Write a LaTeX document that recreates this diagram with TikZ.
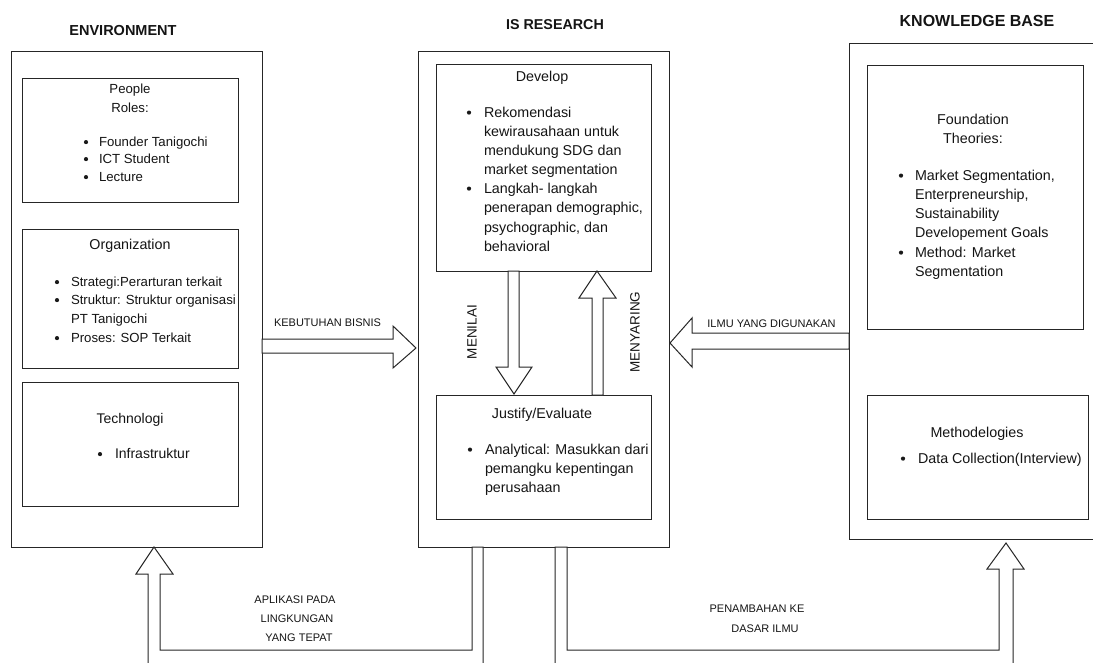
\documentclass[tikz,border=0pt]{standalone}
\usepackage{fontspec}
\setmainfont{Liberation Sans}
\usetikzlibrary{calc,fit}
\newcommand\fs[1]{\fontsize{#1}{#1}\selectfont}
\newcommand\bitem[5]{\node[dot] (#1b) at (#2,{#4-4.4}) {}; \node[lbl,anchor=base west] (#1) at (#3,#4) {#5};}
\newcommand\tline[4]{\node[lbl,anchor=base west] (#1) at (#2,#3) {#4};}
\newcommand\ctline[4]{\node[lbl,anchor=base] (#1) at (#2,#3) {#4};}
\begin{document}
\begin{tikzpicture}[x=1pt,y=-1pt,
  lbl/.style={inner sep=0pt,outer sep=0pt,text=black!92},
  dot/.style={circle,fill=black!90,inner sep=0pt,minimum size=4.2pt},
  frame/.style={draw=black!85,line width=1pt,inner sep=0pt,outer sep=0pt},
  hollow/.style={draw=black!85,line width=1pt,fill=white,line join=miter},
  ttl/.style={lbl,anchor=base,font=\bfseries}
]
\useasboundingbox (0,0) rectangle (1093,662);
\clip (0,0) rectangle (1093,662);

% ---------- boxes
\node[frame,fit={(11,51) (262,547)}] (env) {};
\node[frame,fit={(22,78) (238,202)}] (ppl) {};
\node[frame,fit={(22,229) (238,368)}] (org) {};
\node[frame,fit={(22,382) (238,506)}] (tech) {};
\node[frame,fit={(418,51) (669,547)}] (isr) {};
\node[frame,fit={(436,64) (651,271)}] (dev) {};
\node[frame,fit={(436,395) (651,519)}] (jus) {};
\node[frame,fit={(849,43) (1106,539)}] (kb) {};
\node[frame,fit={(867,65) (1083,329)}] (fnd) {};
\node[frame,fit={(867,395) (1088,519)}] (mth) {};

% ---------- hollow arrows
\draw[hollow] (env.east |- 0,339) -- (393,339) -- (393,326) -- ($(isr.west |- 0,348)+(-2,0)$)
  -- (393,368) -- (393,353) -- (env.east |- 0,353) -- cycle;
\draw[hollow] (kb.west |- 0,333) -- (692,333) -- (692,318) -- ($(isr.east |- 0,343)+(1,0)$)
  -- (692,367) -- (692,349) -- (kb.west |- 0,349) -- cycle;
\draw[hollow] (dev.south -| 508,0) -- (508,367) -- (496,367) -- ($(jus.north -| 514,0)+(0,-1)$)
  -- (532,367) -- (519,367) -- (dev.south -| 519,0) -- cycle;
\draw[hollow] (jus.north -| 592,0) -- (592,298) -- (579,298) -- (dev.south -| 597,0)
  -- (616,298) -- (603,298) -- (jus.north -| 603,0) -- cycle;
\draw[hollow] (isr.south -| 472,0) -- (472,650) -- (160,650) -- (160,574) -- (173,574)
  -- (env.south -| 154,0) -- (136,574) -- (148,574) -- (148,690) -- (483,690)
  -- (isr.south -| 483,0) -- cycle;
\draw[hollow] (isr.south -| 555,0) -- (555,690) -- (1013,690) -- (1013,569) -- (1024,569)
  -- ($(kb.south -| 1006,0)+(0,4)$) -- (987,569) -- (999,569) -- (999,650) -- (567,650)
  -- (isr.south -| 567,0) -- cycle;

% ---------- titles
\node[ttl,font=\fs{14.5}\bfseries] (tEnv) at (123,35) {ENVIRONMENT};
\node[ttl,font=\fs{14.3}\bfseries] (tIS) at (555,29) {IS RESEARCH};
\node[ttl,font=\fs{16}\bfseries] (tKB) at (977,26) {KNOWLEDGE BASE};

% ---------- environment
\begin{scope}[every node/.append style={font=\fs{13.2}}]
\ctline{pT}{130}{93.5}{People}
\ctline{rT}{130}{112.5}{Roles:}
\bitem{p1}{86}{99}{146.5}{Founder Tanigochi}
\bitem{p2}{86}{99}{163.5}{ICT Student}
\bitem{p3}{86}{99}{181.5}{Lecture}
\bitem{o1}{57}{71}{286.5}{Strategi:Perarturan terkait}
\bitem{o2}{57}{71}{304.5}{Struktur: Struktur organisasi}
\tline{o2b}{71}{323.5}{PT Tanigochi}
\bitem{o3}{57}{71}{342.5}{Proses: SOP Terkait}
\end{scope}
\node[lbl,anchor=base,font=\fs{14.3}] (oT) at (130,249) {Organization};
\begin{scope}[every node/.append style={font=\fs{14}}]
\ctline{tT}{130}{423}{Technologi}
\bitem{t1}{100}{115}{458.5}{Infrastruktur}
\end{scope}

% ---------- IS research
\begin{scope}[every node/.append style={font=\fs{14.3}}]
\ctline{dT}{542}{81}{Develop}
\bitem{d1}{469}{484}{117}{Rekomendasi}
\tline{d1a}{484}{136}{kewirausahaan untuk}
\tline{d1b}{484}{155}{mendukung SDG dan}
\tline{d1c}{484}{174}{market segmentation}
\bitem{d2}{469}{484}{193}{Langkah- langkah}
\tline{d2a}{484}{212}{penerapan demographic,}
\tline{d2b}{484}{232}{psychographic, dan}
\tline{d2c}{484}{251}{behavioral}
\ctline{jT}{542}{418}{Justify/Evaluate}
\bitem{j1}{470}{485}{454}{Analytical: Masukkan dari}
\tline{j1a}{485}{473}{pemangku kepentingan}
\tline{j1b}{485}{492}{perusahaan}
\end{scope}

% ---------- knowledge base
\begin{scope}[every node/.append style={font=\fs{14.3}}]
\ctline{fT}{973}{124}{Foundation}
\ctline{fT2}{973}{143}{Theories:}
\bitem{f1}{901}{915}{180}{Market Segmentation,}
\tline{f1a}{915}{199}{Enterpreneurship,}
\tline{f1b}{915}{218}{Sustainability}
\tline{f1c}{915}{237}{Developement Goals}
\bitem{f2}{901}{915}{257}{Method: Market}
\tline{f2a}{915}{276}{Segmentation}
\ctline{mT}{977}{437}{Methodelogies}
\bitem{m1}{903}{918}{463}{Data Collection(Interview)}
\end{scope}

% ---------- arrow labels
\begin{scope}[every node/.append style={font=\fs{11}}]
\ctline{lKeb}{327.5}{326}{KEBUTUHAN BISNIS}
\ctline{lIlmu}{771.5}{327}{ILMU YANG DIGUNAKAN}
\ctline{lA1}{295}{603}{APLIKASI PADA}
\ctline{lA2}{297}{622}{LINGKUNGAN}
\ctline{lA3}{299}{641}{YANG TEPAT}
\ctline{lP1}{757}{612}{PENAMBAHAN KE}
\ctline{lP2}{765}{632}{DASAR ILMU}
\end{scope}
\node[lbl,rotate=90,font=\fs{13.5}] (lMen) at (472,332) {MENILAI};
\node[lbl,rotate=90,font=\fs{13.5}] (lMny) at (635,332) {MENYARING};
\end{tikzpicture}
\end{document}
